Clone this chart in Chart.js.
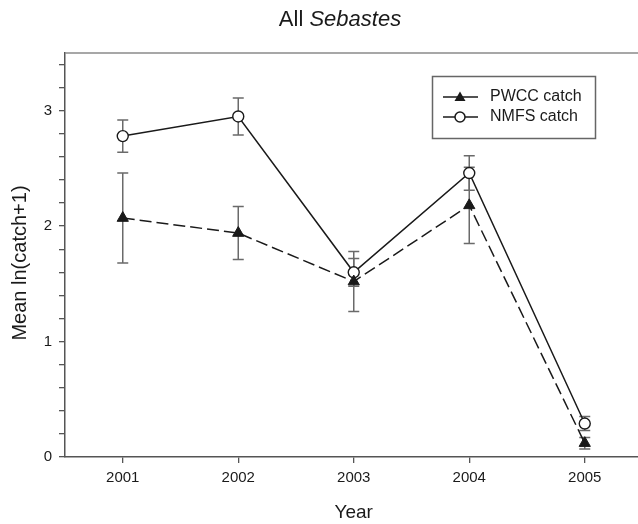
<!DOCTYPE html>
<html>
<head>
<meta charset="utf-8">
<script src="https://cdn.jsdelivr.net/npm/chart.js@4.4.1/dist/chart.umd.min.js"></script>
<style>
  html, body { margin: 0; padding: 0; background: #fff; overflow: hidden; }
  #wrap { width: 650px; height: 524px; position: relative; }
</style>
</head>
<body>
<div id="wrap"><canvas id="chart"></canvas></div>
<script>
// data
const years = [2001, 2002, 2003, 2004, 2005];
const pwccMean = [2.07, 1.94, 1.52, 2.18, 0.12];
const pwccErr = [0.39, 0.23, 0.26, 0.33, 0.05];
const nmfsMean = [2.78, 2.95, 1.60, 2.46, 0.29];
const nmfsErr = [0.14, 0.16, 0.12, 0.15, 0.06];
const yLabels = [0, 1, 2, 3];
const seriesNames = ["PWCC catch", "NMFS catch"];

const FONT = '"Liberation Sans", Arial, sans-serif';
const INK = "#1a1a1a";
Chart.defaults.font.family = FONT;
Chart.defaults.color = INK;

function points(means) {
    return years.map((x, i) => ({ x: x, y: means[i] }));
}

// vertical error bars with caps, drawn under the markers
const errorBars = {
    id: "errorBars",
    beforeDatasetsDraw(chart) {
        const ctx = chart.ctx;
        const xs = chart.scales.x;
        const ys = chart.scales.y;
        const sets = [[pwccMean, pwccErr], [nmfsMean, nmfsErr]];
        ctx.save();
        ctx.strokeStyle = "#6a6a6a";
        ctx.lineWidth = 1.5;
        sets.forEach(([m, e]) => {
            years.forEach((yr, i) => {
                const px = xs.getPixelForValue(yr);
                const top = ys.getPixelForValue(m[i] + e[i]);
                const bot = ys.getPixelForValue(m[i] - e[i]);
                ctx.beginPath();
                ctx.moveTo(px, top); ctx.lineTo(px, bot);
                ctx.moveTo(px - 5.5, top); ctx.lineTo(px + 5.5, top);
                ctx.moveTo(px - 5.5, bot); ctx.lineTo(px + 5.5, bot);
                ctx.stroke();
            });
        });
        ctx.restore();
    }
};

// titles, top frame line and the boxed legend
const decorations = {
    id: "decorations",
    afterDraw(chart) {
        const ctx = chart.ctx;
        const area = chart.chartArea;
        ctx.save();

        // top frame
        ctx.strokeStyle = "#8a8a8a";
        ctx.lineWidth = 1.5;
        ctx.beginPath();
        ctx.moveTo(area.left, area.top);
        ctx.lineTo(chart.width, area.top);
        ctx.stroke();

        ctx.fillStyle = INK;
        ctx.textBaseline = "middle";

        // main title, genus in italics
        ctx.font = "22px " + FONT;
        const a = "All ";
        const wa = ctx.measureText(a).width;
        ctx.font = "italic 22px " + FONT;
        const b = "Sebastes";
        const wb = ctx.measureText(b).width;
        const tx = 340 - (wa + wb) / 2;
        ctx.textAlign = "left";
        ctx.font = "22px " + FONT;
        ctx.fillText(a, tx, 20);
        ctx.font = "italic 22px " + FONT;
        ctx.fillText(b, tx + wa, 20);

        // axis titles
        ctx.textAlign = "center";
        ctx.font = "19px " + FONT;
        ctx.fillText("Year", (area.left + area.right) / 2, 513);

        ctx.save();
        ctx.translate(20, 263);
        ctx.rotate(-Math.PI / 2);
        ctx.font = "20px " + FONT;
        ctx.fillText("Mean ln(catch+1)", 0, 0);
        ctx.restore();

        // legend box
        ctx.strokeStyle = "#666";
        ctx.lineWidth = 1.5;
        ctx.strokeRect(432.5, 76.5, 163, 62);

        const rows = [97, 117];
        ctx.font = "16px " + FONT;
        rows.forEach((ry, i) => {
            ctx.strokeStyle = INK;
            ctx.lineWidth = 1.5;
            ctx.beginPath();
            ctx.moveTo(443, ry); ctx.lineTo(478, ry);
            ctx.stroke();
            ctx.beginPath();
            if (i === 0) {
                ctx.moveTo(460, ry - 5.5);
                ctx.lineTo(465.5, ry + 4);
                ctx.lineTo(454.5, ry + 4);
                ctx.closePath();
                ctx.fillStyle = INK;
                ctx.fill();
            } else {
                ctx.arc(460, ry, 5, 0, Math.PI * 2);
                ctx.fillStyle = "#fff";
                ctx.fill();
                ctx.stroke();
            }
            ctx.fillStyle = INK;
            ctx.textAlign = "left";
            ctx.fillText(seriesNames[i], 490, ry);
        });

        ctx.restore();
    }
};

new Chart(document.getElementById("chart"), {
    type: "line",
    data: {
        datasets: [{
            label: seriesNames[0],
            data: points(pwccMean),
            borderColor: INK,
            borderWidth: 1.5,
            borderDash: [12, 5],
            pointStyle: "triangle",
            pointRadius: 6.5,
            pointBackgroundColor: INK,
            pointBorderColor: INK,
            pointBorderWidth: 1,
            tension: 0
        }, {
            label: seriesNames[1],
            data: points(nmfsMean),
            borderColor: INK,
            borderWidth: 1.5,
            pointStyle: "circle",
            pointRadius: 5.5,
            pointBackgroundColor: "#fff",
            pointBorderColor: INK,
            pointBorderWidth: 1.4,
            tension: 0
        }]
    },
    options: {
        responsive: true,
        maintainAspectRatio: false,
        animation: false,
        layout: { padding: { top: 53, left: 0, right: 7, bottom: 0 } },
        plugins: {
            legend: { display: false },
            title: { display: false },
            tooltip: { enabled: false }
        },
        scales: {
            x: {
                type: "linear",
                min: 2000.5,
                max: 2005.5,
                afterFit(s) { s.height = 67; },
                afterBuildTicks(s) { s.ticks = years.map(v => ({ value: v })); },
                grid: { drawOnChartArea: false, tickLength: 6, color: "#555", lineWidth: 1.3 },
                border: { color: "#555", width: 1.5 },
                ticks: {
                    autoSkip: false,
                    maxRotation: 0,
                    padding: 6,
                    font: { size: 15 },
                    color: INK,
                    callback: v => String(v)
                }
            },
            y: {
                min: 0,
                max: 3.5,
                afterFit(s) { s.width = 65; },
                afterBuildTicks(s) {
                    const t = [];
                    for (let k = 0; k <= 17; k++) t.push({ value: k / 5 });
                    s.ticks = t;
                },
                grid: { drawOnChartArea: false, tickLength: 6, color: "#555", lineWidth: 1.3 },
                border: { color: "#555", width: 1.5 },
                ticks: {
                    autoSkip: false,
                    padding: 7,
                    font: { size: 15 },
                    color: INK,
                    callback: v => yLabels.includes(v) ? String(v) : ""
                }
            }
        }
    },
    plugins: [errorBars, decorations]
});
</script>
</body>
</html>
